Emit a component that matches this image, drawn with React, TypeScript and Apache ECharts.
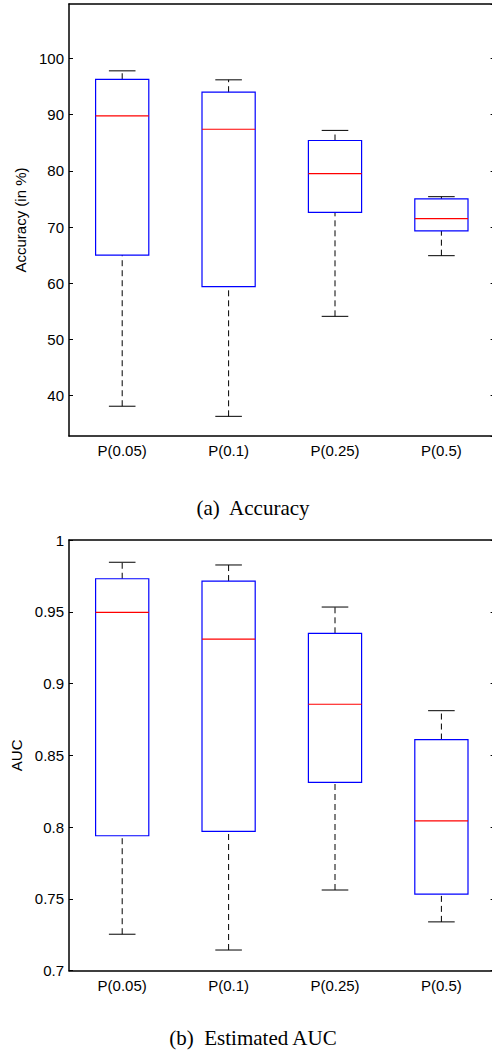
import React, { useEffect, useRef } from "react";
import * as echarts from "echarts";

const categories = ["P(0.05)", "P(0.1)", "P(0.25)", "P(0.5)"];

// Accuracy (in %)
const accLow = [38.1, 36.3, 54.1, 64.9];
const accQ1 = [65.0, 59.4, 72.6, 69.3];
const accMedian = [89.8, 87.4, 79.5, 71.5];
const accQ3 = [96.3, 94.0, 85.4, 75.0];
const accHigh = [97.8, 96.2, 87.2, 75.4];
const accAxisRange = [32.8, 109.7];

// Estimated AUC
const aucLow = [0.7254, 0.7144, 0.7562, 0.734];
const aucQ1 = [0.794, 0.797, 0.8312, 0.7534];
const aucMedian = [0.9496, 0.931, 0.8856, 0.8043];
const aucQ3 = [0.973, 0.9714, 0.935, 0.861];
const aucHigh = [0.9845, 0.9826, 0.9533, 0.8811];
const aucAxisRange = [0.7, 1];
const aucTickStep = 0.05;

const captionA = "(a)\u00a0 Accuracy";
const captionB = "(b)\u00a0 Estimated AUC";

function buildRows(low: number[], q1: number[], med: number[], q3: number[], high: number[]) {
  return categories.map((_, i) => [i, low[i], q1[i], med[i], q3[i], high[i]]);
}

const renderBox = (params: any, api: any) => {
  const idx = api.value(0);
  const band = api.size([1, 0])[0];
  const boxHalf = band * 0.25;
  const capHalf = band * 0.125;
  const pLow = api.coord([idx, api.value(1)]);
  const pQ1 = api.coord([idx, api.value(2)]);
  const pMed = api.coord([idx, api.value(3)]);
  const pQ3 = api.coord([idx, api.value(4)]);
  const pHigh = api.coord([idx, api.value(5)]);
  const cx = pMed[0];
  const whisk = { stroke: "#000", lineWidth: 1, lineDash: [6, 4], fill: "none" };
  const cap = { stroke: "#000", lineWidth: 1, fill: "none" };
  return {
    type: "group",
    children: [
      { type: "line", shape: { x1: cx, y1: pQ3[1], x2: cx, y2: pHigh[1] }, style: whisk },
      { type: "line", shape: { x1: cx, y1: pLow[1], x2: cx, y2: pQ1[1] }, style: whisk },
      { type: "line", shape: { x1: cx - capHalf, y1: pHigh[1], x2: cx + capHalf, y2: pHigh[1] }, style: cap },
      { type: "line", shape: { x1: cx - capHalf, y1: pLow[1], x2: cx + capHalf, y2: pLow[1] }, style: cap },
      {
        type: "rect",
        shape: { x: cx - boxHalf, y: pQ3[1], width: boxHalf * 2, height: pQ1[1] - pQ3[1] },
        style: { stroke: "#0000ff", lineWidth: 1.2, fill: "none" },
      },
      {
        type: "line",
        shape: { x1: cx - boxHalf, y1: pMed[1], x2: cx + boxHalf, y2: pMed[1] },
        style: { stroke: "#ff0000", lineWidth: 1.2, fill: "none" },
      },
    ],
  };
};

const FONT = "'Liberation Sans', Arial, Helvetica, sans-serif";
const axisLineStyle = { lineStyle: { color: "#000", width: 1.5 } };

function xAxes(gridIndex: number) {
  return [
    {
      gridIndex,
      type: "category",
      data: categories,
      position: "bottom",
      axisLine: axisLineStyle,
      axisTick: { inside: true, alignWithLabel: true, length: 4, lineStyle: { color: "#000" } },
      axisLabel: { color: "#000", fontSize: 15, fontFamily: FONT, margin: 7 },
      splitLine: { show: false },
    },
    {
      gridIndex,
      type: "category",
      data: categories,
      position: "top",
      axisLine: axisLineStyle,
      axisTick: { inside: true, alignWithLabel: true, length: 4, lineStyle: { color: "#000" } },
      axisLabel: { show: false },
      splitLine: { show: false },
    },
  ];
}

export default function App() {
  const ref = useRef<HTMLDivElement>(null);
  useEffect(() => {
    if (!ref.current) return;
    const chart = echarts.init(ref.current, undefined, { renderer: "svg" });
    chart.setOption({
      animation: false,
      backgroundColor: "#fff",
      grid: [
        { left: 69, top: 4, width: 425.6, height: 432 },
        { left: 69, top: 540, width: 425.6, height: 430.7 },
      ],
      xAxis: [...xAxes(0), ...xAxes(1)],
      yAxis: [
        {
          gridIndex: 0,
          type: "value",
          position: "left",
          min: accAxisRange[0],
          max: accAxisRange[1],
          splitNumber: 8,
          name: "Accuracy (in %)",
          nameLocation: "middle",
          nameGap: 34,
          nameTextStyle: { color: "#000", fontSize: 15, fontFamily: FONT },
          axisLine: { show: true, ...axisLineStyle },
          axisTick: { show: true, inside: true, length: 4, lineStyle: { color: "#000" } },
          axisLabel: { color: "#000", fontSize: 15, fontFamily: FONT, margin: 5, showMinLabel: false, showMaxLabel: false },
          splitLine: { show: false },
        },
        {
          gridIndex: 0,
          type: "value",
          position: "right",
          min: accAxisRange[0],
          max: accAxisRange[1],
          splitNumber: 8,
          axisLine: { show: true, ...axisLineStyle },
          axisTick: { show: true, inside: true, length: 4, lineStyle: { color: "#000" } },
          axisLabel: { show: false },
          splitLine: { show: false },
        },
        {
          gridIndex: 1,
          type: "value",
          position: "left",
          min: aucAxisRange[0],
          max: aucAxisRange[1],
          interval: aucTickStep,
          name: "AUC",
          nameLocation: "middle",
          nameGap: 38,
          nameTextStyle: { color: "#000", fontSize: 15, fontFamily: FONT },
          axisLine: { show: true, ...axisLineStyle },
          axisTick: { show: true, inside: true, length: 4, lineStyle: { color: "#000" } },
          axisLabel: { color: "#000", fontSize: 15, fontFamily: FONT, margin: 5 },
          splitLine: { show: false },
        },
        {
          gridIndex: 1,
          type: "value",
          position: "right",
          min: aucAxisRange[0],
          max: aucAxisRange[1],
          interval: aucTickStep,
          axisLine: { show: true, ...axisLineStyle },
          axisTick: { show: true, inside: true, length: 4, lineStyle: { color: "#000" } },
          axisLabel: { show: false },
          splitLine: { show: false },
        },
      ],
      series: [
        {
          type: "custom",
          xAxisIndex: 0,
          yAxisIndex: 0,
          renderItem: renderBox,
          encode: { x: 0, y: [1, 2, 3, 4, 5] },
          data: buildRows(accLow, accQ1, accMedian, accQ3, accHigh),
          silent: true,
        },
        {
          type: "custom",
          xAxisIndex: 2,
          yAxisIndex: 2,
          renderItem: renderBox,
          encode: { x: 0, y: [1, 2, 3, 4, 5] },
          data: buildRows(aucLow, aucQ1, aucMedian, aucQ3, aucHigh),
          silent: true,
        },
      ],
      graphic: [
        {
          type: "text",
          x: 253,
          y: 508,
          style: {
            text: captionA,
            fill: "#000",
            font: "21px 'Liberation Serif', 'Times New Roman', serif",
            textAlign: "center",
            textVerticalAlign: "middle",
          },
        },
        {
          type: "text",
          x: 253,
          y: 1038,
          style: {
            text: captionB,
            fill: "#000",
            font: "21px 'Liberation Serif', 'Times New Roman', serif",
            textAlign: "center",
            textVerticalAlign: "middle",
          },
        },
      ],
    });
    return () => chart.dispose();
  }, []);
  return (
    <div style={{ position: "absolute", left: 0, top: 0, width: 492, height: 1055, overflow: "hidden", background: "#fff" }}>
      <div ref={ref} style={{ width: 500, height: 1055 }} />
    </div>
  );
}
